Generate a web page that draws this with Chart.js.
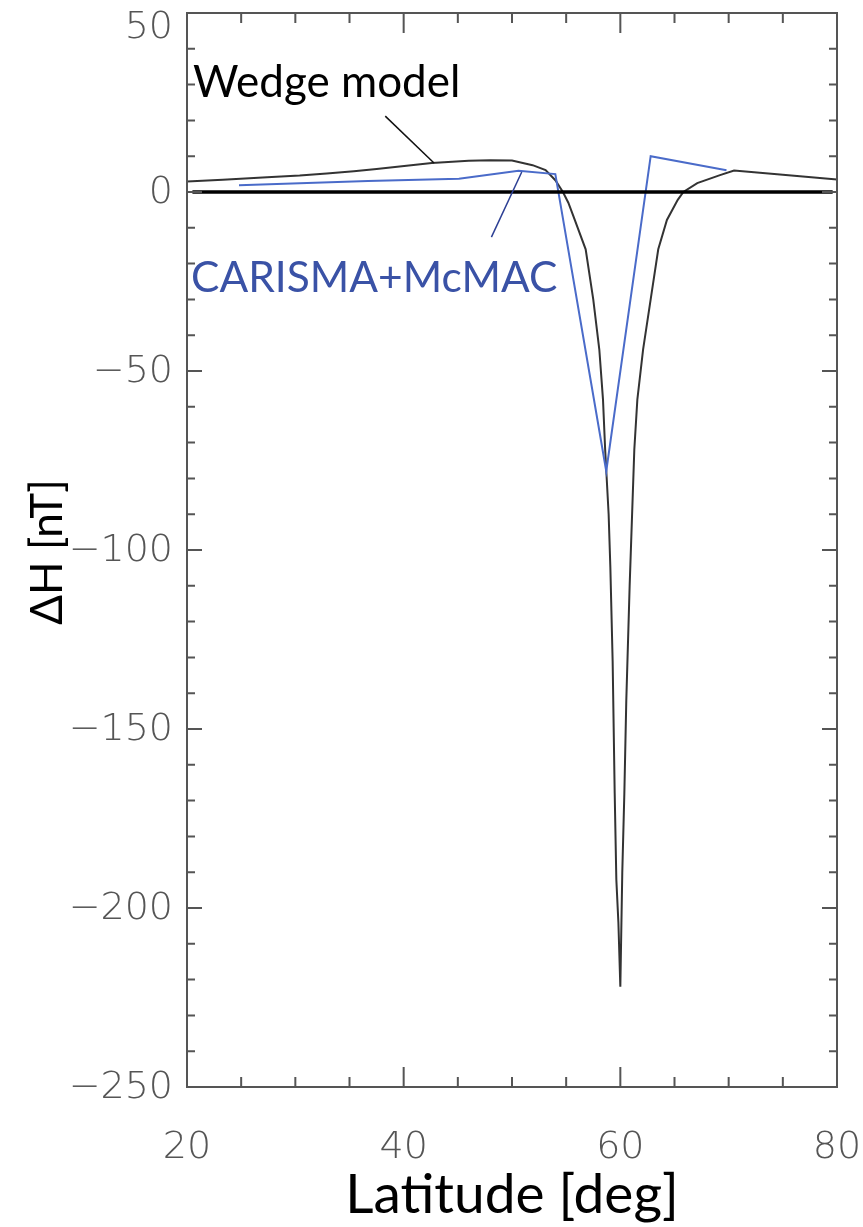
<!DOCTYPE html>
<html>
<head>
<meta charset="utf-8">
<script src="https://cdn.jsdelivr.net/npm/chart.js@4/dist/chart.umd.min.js"></script>
<style>
  html, body { margin: 0; padding: 0; background: #fff; }
  #wrap { width: 863px; height: 1227px; position: relative; }
</style>
</head>
<body>
<div id="wrap"><canvas id="dhChart"></canvas></div>
<script>
// Wedge model: ΔH vs latitude
const wedgeLat = [20, 23.3, 27.4, 30.4, 32.9, 35.4, 37.5, 42.6, 46, 48, 50, 51.9, 53.1, 54, 54.7,
  55.2, 55.7, 56.8, 57.5, 58.06, 58.4, 58.6, 58.92, 59.08, 59.29, 59.48, 59.63, 59.82, 60.0,
  60.18, 60.37, 60.55, 60.86, 61.29, 61.57, 62.1, 62.8, 63.5, 64.3, 65.3, 65.82, 67.1, 69.2,
  70.5, 75, 80];
const wedgeDH = [2.9, 3.4, 4.1, 4.6, 5.2, 5.8, 6.4, 8.1, 8.7, 8.9, 8.8, 7.5, 6.1, 3.3, 0,
  -3, -7, -16, -30, -44, -58, -72, -90, -105, -131, -168, -192, -204, -222,
  -190, -168, -142, -110, -72, -58, -44, -30, -16, -7.8, -2.2, 0, 2.5, 4.7,
  6.0, 4.8, 3.5];

// Station data (CARISMA + McMAC)
const stationLat = [24.8, 36.7, 45.1, 50.6, 54.0, 58.7, 62.8, 69.8];
const stationDH = [1.9, 3.1, 3.7, 5.9, 5.0, -78, 10, 6.1];

// zero reference line
const zeroLat = [20.5, 79.6];
const zeroDH = [0, 0];

const xTicks = [20, 40, 60, 80];
const yTicks = [50, 0, -50, -100, -150, -200, -250];

const toPoints = (xs, ys) => xs.map((x, i) => ({ x: x, y: ys[i] }));
const minus = v => String(v).replace('-', '\u2212');

const tickFont = { family: 'DejaVu Sans', size: 38, weight: 200 };

// frame, inward ticks, y labels, annotations
const framePlugin = {
  id: 'frame',
  afterDraw(chart) {
    const { ctx, chartArea: a, scales: { x, y } } = chart;
    ctx.save();
    ctx.strokeStyle = '#555';
    ctx.lineWidth = 2;
    ctx.strokeRect(a.left, a.top, a.right - a.left, a.bottom - a.top);

    ctx.beginPath();
    for (let v = 20; v <= 80; v += 5) {
      const px = x.getPixelForValue(v);
      const len = v % 20 === 0 ? 20 : 10;
      ctx.moveTo(px, a.bottom); ctx.lineTo(px, a.bottom - len);
      ctx.moveTo(px, a.top); ctx.lineTo(px, a.top + len);
    }
    for (let v = -250; v <= 50; v += 10) {
      const py = y.getPixelForValue(v);
      const len = v % 50 === 0 ? 15 : 8;
      ctx.moveTo(a.left, py); ctx.lineTo(a.left + len, py);
      ctx.moveTo(a.right, py); ctx.lineTo(a.right - len, py);
    }
    ctx.stroke();

    // y tick labels, the top one kept inside the canvas
    ctx.fillStyle = '#555';
    ctx.font = `${tickFont.weight} ${tickFont.size}px "${tickFont.family}"`;
    ctx.textAlign = 'right';
    ctx.textBaseline = 'middle';
    yTicks.forEach(v => {
      const py = Math.max(y.getPixelForValue(v) + 1, a.top + 15);
      ctx.fillText(minus(v), a.left - 14, py);
    });

    // annotation pointers
    ctx.lineWidth = 1.5;
    ctx.strokeStyle = '#111';
    ctx.beginPath();
    ctx.moveTo(x.getPixelForValue(38.3), y.getPixelForValue(21.2));
    ctx.lineTo(x.getPixelForValue(42.8), y.getPixelForValue(8.1));
    ctx.stroke();
    ctx.strokeStyle = '#2c3f94';
    ctx.beginPath();
    ctx.moveTo(x.getPixelForValue(48.1), y.getPixelForValue(-12.6));
    ctx.lineTo(x.getPixelForValue(50.9), y.getPixelForValue(5.6));
    ctx.stroke();

    ctx.textBaseline = 'alphabetic';
    ctx.textAlign = 'left';
    ctx.fillStyle = '#000';
    ctx.font = '44px Lato';
    ctx.fillText('Wedge model', 193, 97);
    ctx.fillStyle = '#3a52a6';
    ctx.font = '42.5px Lato';
    ctx.fillText('CARISMA+McMAC', 191, 292);

    // axis titles
    ctx.fillStyle = '#000';
    ctx.font = '55px Lato';
    ctx.textAlign = 'center';
    ctx.fillText('Latitude [deg]', 512, 1213);
    ctx.save();
    ctx.translate(62, 552);
    ctx.rotate(-Math.PI / 2);
    ctx.font = '44px Lato';
    ctx.fillText('\u0394H [nT]', 0, 0);
    ctx.restore();
    ctx.restore();
  }
};

new Chart(document.getElementById('dhChart').getContext('2d'), {
  type: 'line',
  data: {
    datasets: [
      {
        data: toPoints(zeroLat, zeroDH),
        borderColor: '#000',
        borderWidth: 3.5,
        pointRadius: 0
      },
      {
        data: toPoints(stationLat, stationDH),
        borderColor: '#4a6bc9',
        borderWidth: 2,
        pointRadius: 0,
        tension: 0
      },
      {
        data: toPoints(wedgeLat, wedgeDH),
        borderColor: '#333',
        borderWidth: 2,
        pointRadius: 0,
        tension: 0
      }
    ]
  },
  options: {
    responsive: true,
    maintainAspectRatio: false,
    animation: false,
    events: [],
    layout: { padding: { top: 13, right: 26, left: 0, bottom: 0 } },
    plugins: { legend: { display: false }, tooltip: { enabled: false } },
    scales: {
      x: {
        type: 'linear',
        min: 20, max: 80,
        grid: { display: false },
        border: { display: false },
        afterBuildTicks: s => { s.ticks = xTicks.map(v => ({ value: v })); },
        afterFit: s => { s.height = 140; s.paddingLeft = 0; s.paddingRight = 0; },
        ticks: { color: '#555', font: tickFont, padding: 30, maxRotation: 0 }
      },
      y: {
        type: 'linear',
        min: -250, max: 50,
        grid: { display: false },
        border: { display: false },
        afterBuildTicks: s => { s.ticks = yTicks.map(v => ({ value: v })); },
        afterFit: s => { s.width = 187; s.paddingTop = 0; s.paddingBottom = 0; },
        ticks: { display: false }
      }
    }
  },
  plugins: [framePlugin]
});
</script>
</body>
</html>
